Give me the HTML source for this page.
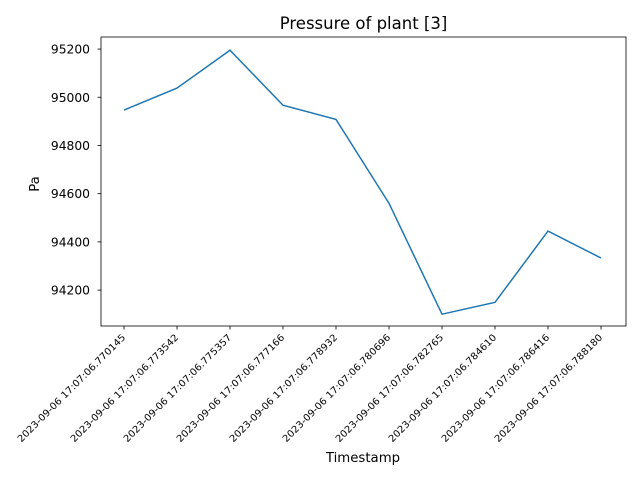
<!DOCTYPE html>
<html><head><meta charset="utf-8"><style>body{margin:0;background:#fff}svg{font-family:"DejaVu Sans","Liberation Sans",sans-serif}</style></head>
<body>
<svg id="c" width="640" height="480"></svg>
<script>
const categories=["2023-09-06 17:07:06.770145","2023-09-06 17:07:06.773542","2023-09-06 17:07:06.775357","2023-09-06 17:07:06.777166","2023-09-06 17:07:06.778932","2023-09-06 17:07:06.780696","2023-09-06 17:07:06.782765","2023-09-06 17:07:06.784610","2023-09-06 17:07:06.786416","2023-09-06 17:07:06.788180"];
const values=[94947,95038,95195,94967,94908,94560,94100,94149,94445,94333];
const yTicks=[94200,94400,94600,94800,95000,95200];
const NS="http://www.w3.org/2000/svg";
const svg=document.getElementById('c');
const L=101,R=626,T=37,B=326,ymin=94051,ymax=95250;
const x=i=>124+i*(601-124)/(categories.length-1);
const y=v=>B-(v-ymin)/(ymax-ymin)*(B-T);
function mk(t,a,txt){const e=document.createElementNS(NS,t);for(const k in a)e.setAttribute(k,a[k]);if(txt!=null)e.textContent=txt;svg.appendChild(e);return e;}
let e=mk('rect',{x:L,y:T,width:R-L,height:B-T,fill:'none',stroke:'#000','stroke-width':0.8});

yTicks.forEach(v=>{const yy=y(v);
e=mk('line',{x1:L-3.5,x2:L,y1:yy,y2:yy,stroke:'#000','stroke-width':0.8});

e=mk('text',{x:L-11,y:yy+4.5,'text-anchor':'end','font-size':12.3},v);
});
categories.forEach((c,i)=>{const xx=x(i);
e=mk('line',{x1:xx,x2:xx,y1:B,y2:B+3.5,stroke:'#000','stroke-width':0.8});

const ax=xx+2,ay=B+12;
e=mk('text',{x:ax,y:ay,'text-anchor':'end','font-size':9.5,textLength:148,lengthAdjust:'spacingAndGlyphs',transform:`rotate(-45 ${ax} ${ay})`},c);
});
e=mk('polyline',{points:values.map((v,i)=>x(i)+','+y(v)).join(' '),fill:'none',stroke:'#1f77b4','stroke-width':1.5});

e=mk('text',{x:363.5,y:29,'text-anchor':'middle','font-size':16.5},'Pressure of plant [3]');

e=mk('text',{x:363,y:462,'text-anchor':'middle','font-size':13.3},'Timestamp');

e=mk('text',{x:39,y:184,'text-anchor':'middle','font-size':13.3,transform:'rotate(-90 39 184)'},'Pa');

</script>
</body></html>
